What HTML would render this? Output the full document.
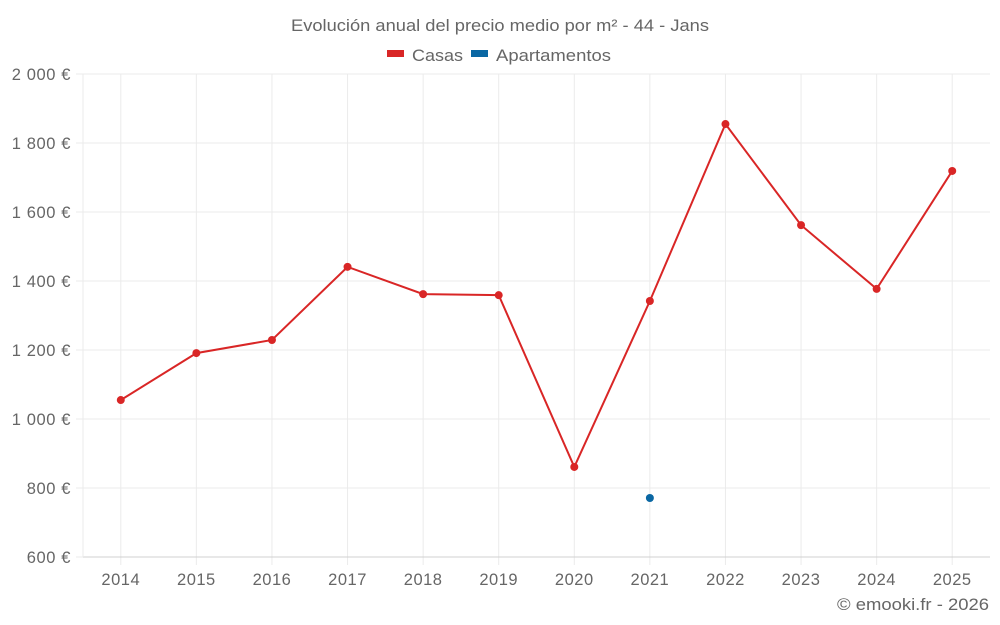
<!DOCTYPE html>
<html><head><meta charset="utf-8"><style>
body{margin:0;background:#fff;}
svg{display:block;font-family:"Liberation Sans",sans-serif;}
</style></head><body>
<svg id="chart" width="1000" height="625" viewBox="0 0 1000 625" xmlns="http://www.w3.org/2000/svg">
<text x="291" y="31" textLength="418" lengthAdjust="spacingAndGlyphs" font-size="17" fill="#666">Evolución anual del precio medio por m² - 44 - Jans</text>
<g><rect x="387" y="50" width="17" height="7" fill="#d92626"/><text x="412" y="61" textLength="51" lengthAdjust="spacingAndGlyphs" font-size="17" fill="#666">Casas</text></g>
<g><rect x="471" y="50" width="17" height="7" fill="#0a67a3"/><text x="496" y="61" textLength="115" lengthAdjust="spacingAndGlyphs" font-size="17" fill="#666">Apartamentos</text></g>
<g id="grid"></g><g id="axes"></g><g id="marks"></g>
<text x="837" y="610" textLength="152" lengthAdjust="spacingAndGlyphs" font-size="17" fill="#666">© emooki.fr - 2026</text>
</svg>
<script>
const categories=['2014','2015','2016','2017','2018','2019','2020','2021','2022','2023','2024','2025'];
const casas=[1055,1191,1229,1441,1362,1359,861,1342,1855,1562,1377,1719];
const apartamentos=[null,null,null,null,null,null,null,771,null,null,null,null];
const yTicks=[600,800,1000,1200,1400,1600,1800,2000];
const yTickLabels=['600 €','800 €','1 000 €','1 200 €','1 400 €','1 600 €','1 800 €','2 000 €'];
const L=83,R=990,T=74,B=557,NS='http://www.w3.org/2000/svg';
const x=i=>L+(i+0.5)*(R-L)/categories.length;
const y=v=>B-(v-600)/(2000-600)*(B-T);
function mk(tag,a,parent){const e=document.createElementNS(NS,tag);for(const k in a)e.setAttribute(k,a[k]);document.getElementById(parent).appendChild(e);return e;}
yTicks.forEach((t,i)=>{
 const g=mk('line',{x1:76,x2:R,y1:y(t),y2:y(t),stroke:'#ebebeb'},'grid');
 
 
 const l=mk('text',{x:71,y:y(t)+6,'text-anchor':'end','font-size':16.5,fill:'#666','letter-spacing':'0.6'},'axes');l.textContent=yTickLabels[i];
 
 
});
categories.forEach((c,i)=>{
 const g=mk('line',{x1:x(i),x2:x(i),y1:T,y2:565,stroke:'#ebebeb'},'grid');
 
 
 const l=mk('text',{x:x(i),y:585,'text-anchor':'middle','font-size':16.5,fill:'#666','letter-spacing':'0.5'},'axes');l.textContent=c;
 
 
});
const ax=mk('line',{x1:L,x2:R,y1:B,y2:B,stroke:'#d0d0d0'},'axes');


const ay=mk('line',{x1:L,x2:L,y1:T,y2:B,stroke:'#ebebeb'},'axes');


const pts=casas.map((v,i)=>x(i)+','+y(v)).join(' ');
const pl=mk('polyline',{points:pts,fill:'none',stroke:'#d92626','stroke-width':2},'marks');


casas.forEach((v,i)=>{const c=mk('circle',{cx:x(i),cy:y(v),r:4,fill:'#d92626'},'marks');
 
 });
apartamentos.forEach((v,i)=>{if(v==null)return;const c=mk('circle',{cx:x(i),cy:y(v),r:4,fill:'#0a67a3'},'marks');
 
 });
</script>
</body></html>
